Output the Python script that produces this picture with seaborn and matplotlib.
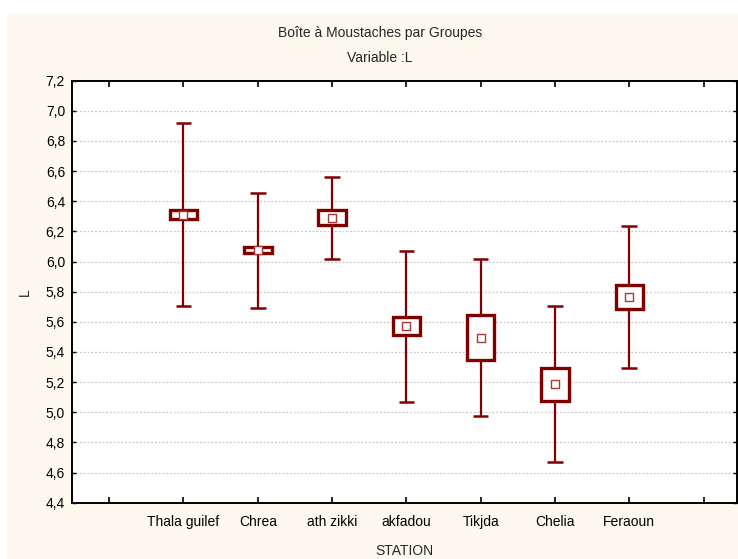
import matplotlib
matplotlib.use("Agg")
import matplotlib.pyplot as plt
from matplotlib.patches import Rectangle
import numpy as np
import pandas as pd
import seaborn as sns

# Group statistics for variable L by station
stations = ["Thala guilef", "Chrea", "ath zikki", "akfadou", "Tikjda", "Chelia", "Feraoun"]
means = [6.31, 6.075, 6.29, 5.57, 5.495, 5.185, 5.765]
std_err = [0.029, 0.021, 0.050, 0.060, 0.150, 0.108, 0.080]
std_dev = [0.607, 0.380, 0.273, 0.499, 0.522, 0.517, 0.473]

y_ticks = [4.4, 4.6, 4.8, 5.0, 5.2, 5.4, 5.6, 5.8, 6.0, 6.2, 6.4, 6.6, 6.8, 7.0, 7.2]

df = pd.DataFrame({"STATION": stations, "mean": means, "se": std_err, "sd": std_dev})
df["pos"] = np.arange(len(df))

sns.set_style("white")
plt.rcParams["font.family"] = ["Liberation Sans", "DejaVu Sans"]

W, H = 738, 559
fig = plt.figure(figsize=(W / 100, H / 100), dpi=100, facecolor="white")

# cream panel behind the whole graph
fig.patches.append(Rectangle((7 / W, 0), 1 - 7 / W, 1 - 14 / H, transform=fig.transFigure,
                             facecolor="#fdf9ee", edgecolor="none", zorder=-5))

ax = fig.add_axes([72 / W, 1 - 502.7 / H, (737 - 72) / W, (502.7 - 80.7) / H])
ax.set_zorder(2)
ax.set_facecolor("white")

red = "#800000"
fs = 10

# horizontal dotted grid
for v in y_ticks[1:-1]:
    ax.axhline(v, color="#c8c8c8", lw=0.9, ls=(0, (1.5, 1.5)), zorder=0.5)

# whiskers: mean +/- SD with caps
ax.vlines(df["pos"], df["mean"] - df["sd"], df["mean"] + df["sd"], color=red, lw=1.6, zorder=2)
cap = 0.105
for _, r in df.iterrows():
    for yv in (r["mean"] - r["sd"], r["mean"] + r["sd"]):
        ax.hlines(yv, r["pos"] - cap, r["pos"] + cap, color=red, lw=1.8, zorder=2)

# boxes: mean +/- SE
ax.bar(df["pos"], 2 * df["se"], bottom=df["mean"] - df["se"], width=0.37,
       facecolor="white", edgecolor=red, linewidth=2.4, zorder=3)

# mean markers
sns.scatterplot(data=df, x="pos", y="mean", marker="s", s=28, color="white",
                edgecolor="#a83a3a", linewidth=1.0, zorder=4, ax=ax, legend=False)

ax.set_xlim(-1.5, 7.45)
ax.set_ylim(4.4, 7.2)
ax.set_xticks(range(-1, 8))
ax.set_xticklabels([""] + stations + [""], fontsize=fs)
ax.set_yticks(y_ticks)
ax.set_yticklabels([f"{v:.1f}".replace(".", ",") for v in y_ticks], fontsize=fs)
ax.tick_params(axis="x", direction="in", length=4, width=1.2, top=True, bottom=True, pad=9, colors="black")
ax.tick_params(axis="y", direction="in", length=3, width=1.0, left=True, right=True, pad=5, colors="black")
for s in ax.spines.values():
    s.set_visible(True)
    s.set_color("black")
    s.set_linewidth(1.4)

ax.set_xlabel("STATION", fontsize=fs, labelpad=11)
ax.set_ylabel("L", fontsize=fs, labelpad=10)

fig.text(380 / W, 1 - 33 / H, "Boîte à Moustaches par Groupes", ha="center", va="center", fontsize=fs)
fig.text(380 / W, 1 - 58 / H, "Variable :L", ha="center", va="center", fontsize=fs)

fig.savefig("out.png", dpi=100, facecolor="white")
